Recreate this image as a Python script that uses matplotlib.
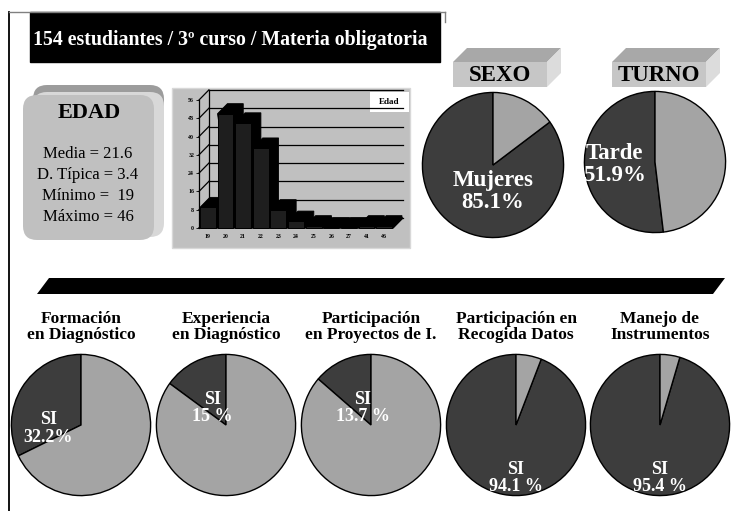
import numpy as np
import matplotlib.pyplot as plt
from matplotlib.patches import Rectangle, Polygon, FancyBboxPatch

W, H = 733, 511
DARK = "#3d3d3d"
LIGHT = "#a4a4a4"
GRIS = "#c0c0c0"

titulo = "154 estudiantes / 3º curso / Materia obligatoria"
edad_lineas = ["Media = 21.6", "D. Típica = 3.4", "Mínimo =  19", "Máximo = 46"]

edades = ["19", "20", "21", "22", "23", "24", "25", "26", "27", "41", "46"]
frecuencias = [9, 50, 46, 35, 8, 3, 1, 0, 0, 1, 1]
hist_ticks = [0, 8, 16, 24, 32, 40, 48, 56]

sexo = [85.1, 14.9]
sexo_txt = "Mujeres\n85.1%"
turno = [51.9, 48.1]
turno_txt = "Tarde\n51.9%"

items = ["Formación\nen Diagnóstico", "Experiencia\nen Diagnóstico",
         "Participación\nen Proyectos de I.", "Participación en\nRecogida Datos",
         "Manejo de\nInstrumentos"]
si = [32.2, 15.0, 13.7, 94.1, 95.4]
si_txt = ["SI\n32.2%", "SI\n15 %", "SI\n13.7 %", "SI\n94.1 %", "SI\n95.4 %"]

plt.rcParams["font.family"] = ["Liberation Serif", "DejaVu Serif"]

fig = plt.figure(figsize=(W / 100, H / 100), dpi=100)
fig.patch.set_facecolor("white")
bg = fig.add_axes([0, 0, 1, 1])
bg.set_xlim(0, W)
bg.set_ylim(H, 0)
bg.axis("off")


def px_axes(x0, y0, x1, y1):
    return fig.add_axes([x0 / W, 1 - y1 / H, (x1 - x0) / W, (y1 - y0) / H])


def pastel(cx, cy, rx, ry, vals, txt, tx, ty, fs):
    ax = px_axes(cx - rx, cy - ry, cx + rx, cy + ry)
    ax.pie(vals, colors=[DARK, LIGHT], startangle=90, counterclock=True,
           wedgeprops=dict(edgecolor="black", linewidth=1.0))
    ax.set_aspect("auto")
    ax.set_xlim(-1.02, 1.02)
    ax.set_ylim(-1.02, 1.02)
    ax.text(tx, ty, txt, color="white", ha="center", va="center",
            fontsize=fs, fontweight="bold", linespacing=1.05)
    return ax


# marco
bg.plot([9, 9], [12, 511], color="black", lw=1.3)
bg.plot([9, 445], [12, 12], color="#808080", lw=1)
bg.plot([445, 445], [12, 22], color="#808080", lw=1)

# titulo
bg.add_patch(Rectangle((30, 12), 410, 50, color="black"))
bg.text(33, 40, titulo, color="white", fontsize=14.3, fontweight="bold",
        ha="left", va="center")

# caja EDAD
bg.add_patch(FancyBboxPatch((33, 85), 131, 145, boxstyle="round,pad=0,rounding_size=14",
                            fc="#9c9c9c", ec="none"))
bg.add_patch(FancyBboxPatch((33, 92), 131, 145, boxstyle="round,pad=0,rounding_size=14",
                            fc="#d8d8d8", ec="none"))
bg.add_patch(FancyBboxPatch((23, 95), 131, 145, boxstyle="round,pad=0,rounding_size=14",
                            fc=GRIS, ec="none"))
bg.text(89, 113, "EDAD", fontsize=16, fontweight="bold", ha="center", va="center")
for i, linea in enumerate(edad_lineas):
    bg.text(88, 154 + i * 21, linea, fontsize=12, ha="center", va="center")

# histograma
bg.add_patch(Rectangle((172, 88), 238, 160, fc=GRIS, ec="#d8d8d8", lw=1))
bg.add_patch(Rectangle((370, 92), 39, 20, fc="white", ec="none"))
bg.text(389, 102, "Edad", fontsize=6.5, fontweight="bold", ha="center", va="center")

hx = px_axes(199, 100, 393, 228)
hx.patch.set_visible(False)
n = len(edades)
x = np.arange(n)
hx.set_xlim(-0.5, n - 0.5)
hx.set_ylim(0, hist_ticks[-1])
DX, DY = 0.56, 4.4
for t in hist_ticks:
    hx.plot([-0.5 + DX, n - 0.5 + DX], [t + DY, t + DY], color="black", lw=0.9,
            clip_on=False, zorder=1)
    hx.plot([-0.5, -0.5 + DX], [t, t + DY], color="black", lw=0.9, clip_on=False, zorder=1)
hx.plot([-0.5 + DX] * 2, [DY, hist_ticks[-1] + DY], color="black", lw=0.9, clip_on=False)
hx.add_patch(Polygon([(-0.5, 0), (n - 0.5, 0), (n - 0.5 + DX, DY), (-0.5 + DX, DY)],
                     closed=True, fc="black", ec="black", clip_on=False, zorder=2))
w = 0.9
for i, (xi, h) in enumerate(zip(x, frecuencias)):
    hx.add_patch(Polygon([(xi - w / 2, h), (xi - w / 2 + DX, h + DY), (xi + w / 2 + DX, h + DY),
                          (xi + w / 2 + DX, DY), (xi + w / 2, 0)],
                         closed=True, fc="black", ec="black", lw=0.6,
                         clip_on=False, zorder=3 + 2 * i))
    hx.bar(xi, h, width=w, color="#1e1e1e", edgecolor="black", lw=0.7,
           zorder=4 + 2 * i, clip_on=False)
for s in ["top", "right", "bottom"]:
    hx.spines[s].set_visible(False)
hx.spines["left"].set_linewidth(0.9)
hx.set_yticks(hist_ticks)
hx.set_xticks(x, edades)
hx.tick_params(labelsize=4.2, length=2, width=0.6, pad=1.5)
hx.tick_params(axis="x", length=0, pad=4)
for lab in hx.get_xticklabels() + hx.get_yticklabels():
    lab.set_fontweight("bold")


# cajas SEXO / TURNO
def caja(x0, x1, texto):
    y0, y1, d = 62, 87, 14
    bg.add_patch(Polygon([(x0, y0), (x0 + d, y0 - d), (x1 + d, y0 - d), (x1, y0)],
                         closed=True, fc="#a8a8a8", ec="none"))
    bg.add_patch(Polygon([(x1, y0), (x1 + d, y0 - d), (x1 + d, y1 - d), (x1, y1)],
                         closed=True, fc="#dcdcdc", ec="none"))
    bg.add_patch(Rectangle((x0, y0), x1 - x0, y1 - y0, fc="#c6c6c6", ec="none"))
    bg.text((x0 + x1) / 2, (y0 + y1) / 2 + 1, texto, fontsize=16.5, fontweight="bold",
            ha="center", va="center")


caja(453, 547, "SEXO")
caja(612, 706, "TURNO")

pastel(493, 165, 72, 74, sexo, sexo_txt, 0, -0.36, 16.5)
pastel(655, 162, 72, 72, turno, turno_txt, -0.58, -0.04, 16.5)

# franja negra
bg.add_patch(Polygon([(37, 294), (49, 278), (725, 278), (713, 294)], closed=True, fc="black"))

# pasteles inferiores
centros = [81, 226, 371, 516, 660]
pos_txt = [(-0.47, -0.05), (-0.2, 0.24), (-0.12, 0.24), (0, -0.75), (0, -0.75)]
for cx, item, v, txt, (tx, ty) in zip(centros, items, si, si_txt, pos_txt):
    bg.text(cx, 327, item, fontsize=12.5, fontweight="bold", ha="center", va="center",
            linespacing=0.95)
    pastel(cx, 425, 71, 72, [v, 100 - v], txt, tx, ty, 13)

fig.savefig("out.png", dpi=100)
